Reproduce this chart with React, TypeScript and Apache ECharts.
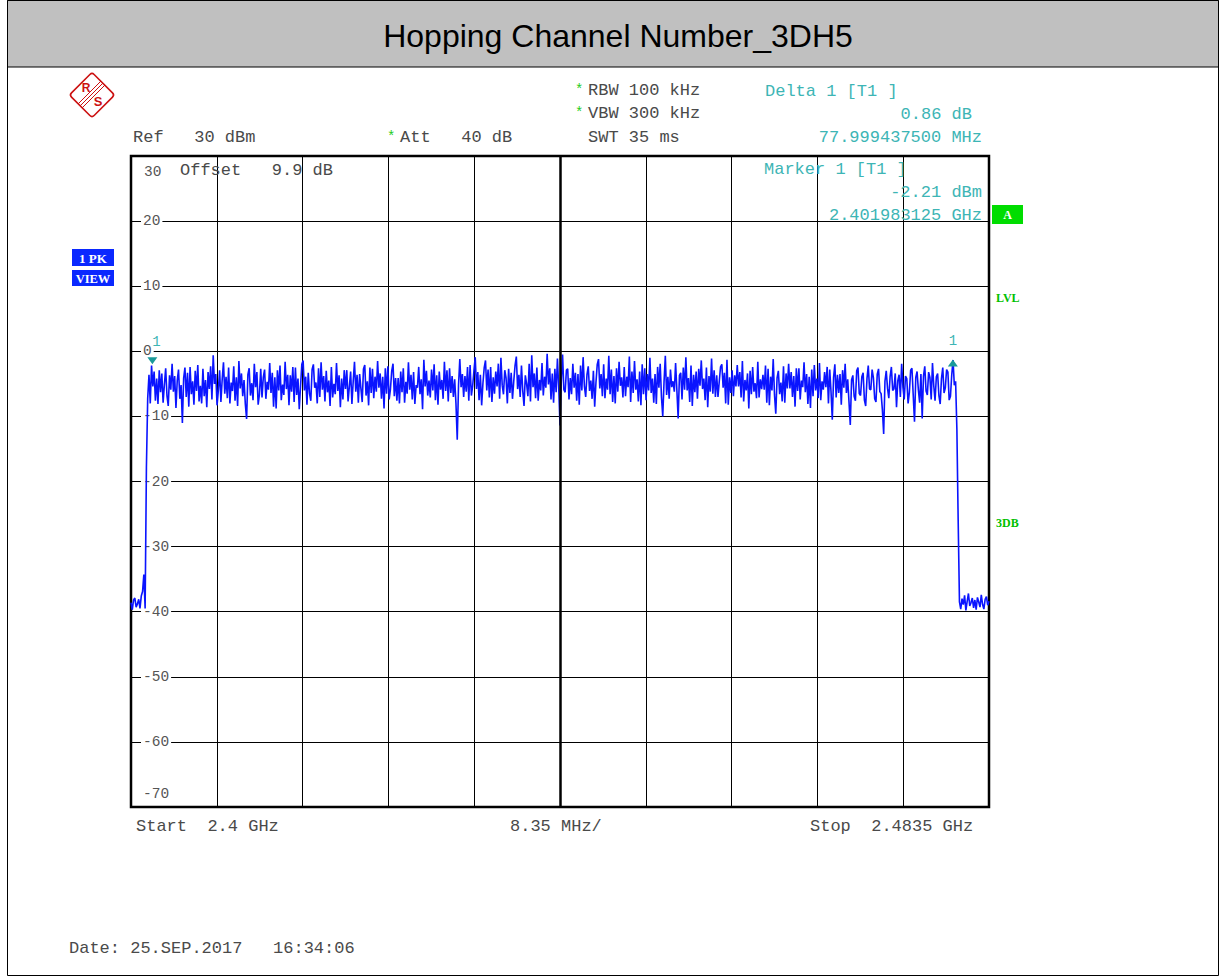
import React, { useEffect, useRef } from "react";
import * as echarts from "echarts";

// Sweep: offsets in MHz from the start frequency
const START_GHZ = 2.4;
const SPAN_MHZ = 83.5;
const DIV_MHZ = 8.35;
const STEP_MHZ = 0.125;

const Y_MIN = -70;
const Y_MAX = 30;
const Y_STEP = 10;

// Trace levels in dBm, one per sweep step (2400.000 MHz ... 2483.500 MHz)
const levelsLeftEdge: number[] = [
  -38.6, -39.7, -38.2, -37.9, -39.3, -38.8, -38.1, -39.5, -37.6, -36.9, -34.3, -39.5, -17.8,
  -7.2, -3.6, -8.0,
];

// 2402 ... 2479 MHz, eight sweep points per MHz
const levelsBand: number[] = [
  -2.2, -5.4, -3.1, -7.6, -4.2, -8.1, -2.9, -6.3,
  -3.4, -7.9, -5.1, -2.6, -6.8, -8.4, -3.7, -5.9,
  -1.9, -6.2, -3.8, -8.7, -4.5, -2.8, -7.3, -5.2,
  -11.0, -4.1, -2.5, -7.0, -3.3, -8.5, -2.4, -6.6,
  -4.6, -8.2, -3.0, -6.1, -2.1, -7.7, -5.3, -8.0,
  -2.7, -6.9, -4.4, -8.6, -3.2, -5.8, -2.3, -7.4,
  -0.6, -5.0, -3.5, -8.3, -6.0, -2.9, -7.8, -4.3,
  -1.7, -6.5, -3.9, -7.2, -2.5, -8.0, -4.8, -6.1,
  -2.3, -7.6, -4.0, -8.4, -1.5, -5.7, -3.4, -6.9,
  -4.4, -8.1, -10.4, -3.6, -2.6, -6.8, -4.9, -7.5,
  -1.9, -5.5, -3.2, -8.2, -6.6, -2.7, -7.1, -4.0,
  -2.8, -7.3, -4.7, -5.9, -1.8, -6.4, -3.3, -8.5,
  -4.0, -8.8, -2.9, -6.0, -2.2, -7.5, -5.1, -6.7,
  -1.6, -5.8, -3.6, -8.3, -3.7, -6.2, -2.4, -7.8,
  -2.5, -6.7, -4.2, -8.9, -5.3, -2.0, -1.4, -6.0,
  -3.9, -8.2, -3.3, -6.5, -7.6, -2.8, -2.0, -5.6,
  -4.8, -8.0, -2.6, -7.0, -1.7, -5.9, -3.8, -7.7,
  -3.0, -6.3, -4.5, -8.4, -2.4, -7.1, -5.0, -6.6,
  -1.8, -6.1, -3.7, -8.6, -4.2, -7.4, -2.9, -5.8,
  -2.9, -7.7, -5.4, -3.1, -8.1, -4.6, -1.6, -6.2,
  -3.6, -7.9, -3.5, -5.7, -7.8, -2.7, -2.1, -6.8,
  -4.6, -8.3, -2.5, -6.4, -2.7, -7.2, -3.9, -6.2,
  -1.5, -5.6, -3.4, -7.3, -3.9, -8.8, -2.6, -6.5,
  -2.3, -7.4, -5.8, -3.0, -1.9, -6.9, -4.1, -7.6,
  -4.1, -8.0, -3.1, -6.3, -2.6, -7.9, -4.7, -6.5,
  -1.7, -5.9, -3.6, -7.4, -3.2, -8.1, -5.2, -5.6,
  -2.4, -6.6, -4.3, -8.9, -1.3, -5.4, -3.0, -6.8,
  -4.5, -7.1, -2.8, -6.0, -2.0, -7.5, -3.7, -8.2,
  -3.1, -5.9, -4.4, -7.3, -1.6, -6.1, -2.9, -7.7,
  -2.6, -6.4, -3.8, -7.0, -4.3, -8.0, -13.6, -5.2,
  -1.2, -5.5, -3.5, -7.0, -3.8, -6.2, -2.4, -7.6,
  -2.1, -6.8, -5.3, -3.0, -0.9, -5.8, -3.2, -7.5,
  -3.6, -8.3, -4.9, -2.5, -1.4, -6.0, -2.8, -7.1,
  -2.4, -7.8, -4.0, -6.5, -3.1, -5.4, -1.9, -7.3,
  -1.0, -5.2, -6.6, -2.9, -4.1, -8.0, -2.7, -6.4,
  -3.3, -7.3, -4.6, -2.2, -0.8, -5.8, -3.6, -7.0,
  -2.2, -6.1, -8.4, -3.7, -5.0, -6.9, -1.9, -7.7,
  -0.6, -5.5, -3.4, -7.2, -2.5, -7.6, -4.4, -6.0,
  -1.8, -6.8, -3.9, -5.6, -0.4, -5.1, -2.6, -7.4,
  -3.4, -7.9, -2.7, -6.3, -1.1, -5.5, -11.4, -4.6,
  -0.5, -5.9, -6.3, -2.9, -2.7, -7.4, -4.1, -6.6,
  -1.9, -5.6, -3.3, -7.6, -3.5, -8.2, -2.2, -6.0,
  -0.9, -5.4, -7.0, -3.6, -2.3, -6.1, -4.5, -7.3,
  -3.0, -8.5, -4.8, -2.0, -1.2, -5.7, -3.5, -6.9,
  -2.0, -7.2, -4.2, -5.9, -0.7, -6.6, -2.8, -7.8,
  -3.8, -8.0, -2.6, -6.2, -1.6, -5.3, -4.0, -7.1,
  -2.4, -6.9, -3.9, -5.5, -0.8, -7.8, -3.1, -6.4,
  -1.5, -5.9, -4.3, -7.7, -3.1, -8.3, -2.0, -6.6,
  -2.6, -7.5, -3.5, -6.0, -1.0, -6.4, -4.2, -7.9,
  -3.5, -8.1, -2.4, -5.6, -1.9, -7.0, -10.0, -4.7,
  -0.7, -6.7, -3.9, -7.3, -2.8, -5.5, -4.6, -6.2,
  -1.8, -6.0, -10.3, -3.7, -3.3, -7.4, -2.5, -5.9,
  -0.9, -6.0, -4.1, -7.8, -2.2, -8.4, -3.6, -6.3,
  -3.1, -7.3, -2.7, -5.3, -1.4, -5.8, -4.2, -7.5,
  -2.5, -8.6, -3.8, -6.2, -1.1, -6.5, -2.9, -7.0,
  -3.7, -7.0, -4.6, -2.4, -2.0, -5.6, -3.3, -8.0,
  -1.3, -8.2, -4.0, -6.4, -2.9, -6.9, -3.7, -5.4,
  -2.1, -5.4, -3.2, -7.1, -1.5, -7.7, -4.4, -6.0,
  -3.4, -8.8, -3.0, -6.6, -2.4, -6.2, -4.9, -7.2,
  -1.6, -7.1, -4.3, -5.8, -3.6, -5.9, -2.2, -7.9,
  -2.7, -8.3, -3.9, -6.0, -1.2, -6.7, -9.6, -4.1,
  -3.0, -6.6, -4.8, -7.7, -2.3, -7.9, -3.4, -5.7,
  -1.9, -5.7, -3.2, -7.0, -3.8, -8.5, -2.6, -6.1,
  -2.6, -7.4, -4.5, -5.5, -1.7, -6.3, -3.5, -8.1,
  -3.9, -8.7, -2.8, -6.9, -2.1, -6.0, -4.2, -7.2,
  -1.8, -7.5, -4.6, -5.9, -3.2, -5.5, -2.4, -8.0,
  -2.8, -6.2, -10.5, -4.0, -2.0, -7.1, -3.6, -6.4,
  -3.5, -8.2, -2.9, -5.6, -1.9, -6.4, -4.3, -7.8,
  -11.3, -4.4, -3.7, -6.9, -7.6, -3.0, -2.5, -6.5,
  -6.8, -3.9, -3.3, -7.5, -8.4, -4.2, -2.2, -5.8,
  -5.9, -2.8, -4.1, -7.3, -7.8, -3.5, -2.7, -6.2,
  -6.5, -9.0, -12.7, -4.6, -3.0, -5.7, -7.2, -3.9,
  -2.4, -6.0, -5.8, -3.4, -8.6, -4.5, -3.6, -7.0,
  -1.9, -5.5, -7.4, -3.8, -4.2, -8.0, -6.3, -2.9,
  -2.6, -6.7, -10.8, -4.0, -3.1, -5.9, -7.9, -3.5,
  -10.3, -3.8, -2.3, -6.1, -6.7, -3.2, -4.0, -7.4,
  -1.8, -5.3, -7.6, -3.9, -3.4, -6.8, -8.1, -4.2,
  -2.5, -6.4, -5.6, -2.8, -3.2, -7.5, -6.9, -3.6,
];

// 2480.000 ... 2483.500 MHz
const levelsRightEdge: number[] = [
  -1.35, -5.2, -4.6, -12.0, -26.0, -38.5,
  -39.6, -38.0, -38.9, -37.5, -39.8, -38.4, -37.2, -39.1, -38.6, -37.9, -39.4, -38.2,
  -39.7, -37.8, -38.5, -39.3, -37.4, -38.9, -39.6, -38.1, -37.7, -39.0, -38.4,
];

const levels: number[] = [...levelsLeftEdge, ...levelsBand, ...levelsRightEdge];

// Markers (offset MHz from start, level dBm)
const marker1 = { offset: 1.983125, level: -2.21 };
const delta1 = { offset: 79.9825625, level: -1.35 };

const headerLeft = ["Ref   30 dBm", "Att   40 dB"];
const settings = ["RBW 100 kHz", "VBW 300 kHz", "SWT 35 ms"];
const deltaTexts = ["Delta 1 [T1 ]", "0.86 dB", "77.999437500 MHz"];
const markerTexts = ["Marker 1 [T1 ]", "-2.21 dBm", "2.401983125 GHz"];
const footer = ["Start  2.4 GHz", "8.35 MHz/", "Stop  2.4835 GHz"];
const dateText = "Date: 25.SEP.2017   16:34:06";
const title = "Hopping Channel Number_3DH5";
const yEndLabels = [String(Y_MAX), String(Y_MIN)];

const MONO = "'Liberation Mono', 'DejaVu Sans Mono', monospace";
const GRAY = "#4a4a4a";
const CYAN = "#3db5b5";
const STAR = "#22cc22";

function txt(
  x: number,
  y: number,
  text: string,
  fill: string,
  align: string = "left",
  size: number = 17,
  family: string = MONO,
  weight: string = "normal"
) {
  return {
    type: "text",
    x,
    y,
    z: 10,
    style: {
      text,
      fill,
      align,
      verticalAlign: "middle",
      fontSize: size,
      fontFamily: family,
      fontWeight: weight,
    },
  };
}

export default function App() {
  const ref = useRef<HTMLDivElement>(null);

  useEffect(() => {
    document.body.style.margin = "0";
    if (!ref.current) return;
    const chart = echarts.init(ref.current, undefined, { renderer: "svg" });

    const data = levels.map((v, i) => [i * STEP_MHZ, v]);

    const graphic: any[] = [
      // page frame and title bar
      {
        type: "rect",
        z: 0,
        shape: { x: 7.5, y: 0.5, width: 1211, height: 975 },
        style: { fill: "none", stroke: "#000", lineWidth: 1 },
      },
      {
        type: "rect",
        z: 1,
        shape: { x: 7.5, y: 0.5, width: 1211, height: 66.5 },
        style: { fill: "#c0c0c0", stroke: "#000", lineWidth: 1 },
      },
      txt(618, 36, title, "#000", "center", 32, "'Liberation Sans', Arial, sans-serif"),
      // R&S logo
      {
        type: "group",
        x: 92,
        y: 95,
        z: 10,
        children: [
          {
            type: "rect",
            rotation: Math.PI / 4,
            shape: { x: -16, y: -16, width: 32, height: 32, r: 3 },
            style: { fill: "none", stroke: "#cc1111", lineWidth: 1.6 },
          },
          { type: "line", shape: { x1: 9, y1: -14, x2: -14, y2: 9 }, style: { stroke: "#cc1111", lineWidth: 1 } },
          { type: "line", shape: { x1: 11, y1: -12, x2: -12, y2: 11 }, style: { stroke: "#cc1111", lineWidth: 1 } },
          { type: "line", shape: { x1: 13, y1: -10, x2: -10, y2: 13 }, style: { stroke: "#cc1111", lineWidth: 1 } },
          {
            type: "text",
            x: -6,
            y: -7,
            style: { text: "R", fill: "#cc1111", fontSize: 12, fontWeight: "bold", fontFamily: "'Liberation Sans', sans-serif", align: "center", verticalAlign: "middle" },
          },
          {
            type: "text",
            x: 6,
            y: 6,
            style: { text: "S", fill: "#cc1111", fontSize: 13, fontWeight: "bold", fontFamily: "'Liberation Sans', sans-serif", align: "center", verticalAlign: "middle" },
          },
        ],
      },
      // header texts
      txt(133, 137, headerLeft[0], GRAY),
      txt(387, 137, "*", STAR, "left", 14),
      txt(400, 137, headerLeft[1], GRAY),
      txt(575, 90, "*", STAR, "left", 14),
      txt(588, 90, settings[0], GRAY),
      txt(575, 113, "*", STAR, "left", 14),
      txt(588, 113, settings[1], GRAY),
      txt(588, 137, settings[2], GRAY),
      txt(765, 91, deltaTexts[0], CYAN),
      txt(972, 114, deltaTexts[1], CYAN, "right"),
      txt(982, 137, deltaTexts[2], CYAN, "right"),
      txt(764, 169, markerTexts[0], CYAN),
      txt(982, 192, markerTexts[1], CYAN, "right"),
      txt(982, 215, markerTexts[2], CYAN, "right"),
      // end tick labels of the level axis
      txt(144, 172, yEndLabels[0], "#555", "left", 14.5),
      txt(143, 794, yEndLabels[1], "#555", "left", 14.5),
      txt(180, 170, "Offset   9.9 dB", GRAY),
      // side boxes
      {
        type: "rect",
        z: 10,
        shape: { x: 992, y: 205, width: 31, height: 19 },
        style: { fill: "#00dd00" },
      },
      txt(1007.5, 215, "A", "#fff", "center", 12, "'Liberation Serif', serif", "bold"),
      txt(996, 298, "LVL", "#00c000", "left", 12, "'Liberation Serif', serif", "bold"),
      txt(996, 523, "3DB", "#00c000", "left", 12, "'Liberation Serif', serif", "bold"),
      {
        type: "rect",
        z: 10,
        shape: { x: 72, y: 249, width: 42, height: 17 },
        style: { fill: "#0a28ff" },
      },
      txt(93, 258, "1 PK", "#fff", "center", 13, "'Liberation Serif', serif", "bold"),
      {
        type: "rect",
        z: 10,
        shape: { x: 72, y: 270, width: 42, height: 16 },
        style: { fill: "#0a28ff" },
      },
      txt(93, 278.5, "VIEW", "#fff", "center", 12.5, "'Liberation Serif', serif", "bold"),
      // footer
      txt(136, 826, footer[0], GRAY),
      txt(510, 826, footer[1], GRAY),
      txt(810, 826, footer[2], GRAY),
      txt(69, 948, dateText, GRAY),
    ];

    const option: any = {
      animation: false,
      backgroundColor: "#fff",
      grid: {
        left: 131,
        top: 156,
        width: 858,
        height: 651,
        show: true,
        borderColor: "#000",
        borderWidth: 2.5,
        backgroundColor: "transparent",
      },
      xAxis: {
        type: "value",
        min: 0,
        max: SPAN_MHZ,
        interval: DIV_MHZ,
        axisLine: { show: false },
        axisTick: { show: false },
        axisLabel: { show: false },
        splitLine: { show: true, lineStyle: { color: "#000", width: 1 } },
      },
      yAxis: {
        type: "value",
        min: Y_MIN,
        max: Y_MAX,
        interval: Y_STEP,
        axisLine: { show: false },
        axisTick: { show: false },
        splitLine: { show: true, lineStyle: { color: "#000", width: 1 } },
        axisLabel: {
          inside: true,
          margin: 10,
          color: "#555",
          fontFamily: MONO,
          fontSize: 14.5,
          backgroundColor: "#fff",
          padding: [0, 2],
          showMinLabel: false,
          showMaxLabel: false,
        },
      },
      series: [
        {
          type: "line",
          data,
          showSymbol: false,
          symbol: "none",
          z: 3,
          lineStyle: { color: "#0a14ff", width: 1.6 },
          markLine: {
            silent: true,
            symbol: "none",
            label: { show: false },
            lineStyle: { color: "#000", width: 2.5, type: "solid" },
            data: [{ xAxis: SPAN_MHZ / 2 }],
          },
          markPoint: {
            silent: true,
            data: [
              {
                coord: [marker1.offset, marker1.level],
                symbol: "path://M0 0L10 0L5 7Z",
                symbolSize: [10, 7],
                symbolOffset: [1, -5],
                itemStyle: { color: "#1a9a9a" },
                label: {
                  show: true,
                  formatter: "1",
                  position: "top",
                  distance: 5,
                  offset: [4, -3],
                  color: CYAN,
                  fontFamily: MONO,
                  fontSize: 14,
                },
              },
              {
                coord: [delta1.offset, delta1.level],
                symbol: "triangle",
                symbolSize: [10, 7],
                symbolOffset: [0, 3],
                itemStyle: { color: "#1a9a9a" },
                label: {
                  show: true,
                  formatter: "1",
                  position: "top",
                  distance: 12,
                  color: CYAN,
                  fontFamily: MONO,
                  fontSize: 14,
                },
              },
            ],
          },
        },
      ],
      graphic,
    };

    chart.setOption(option);
    return () => chart.dispose();
  }, []);

  return <div ref={ref} style={{ width: 1220, height: 976 }} />;
}
